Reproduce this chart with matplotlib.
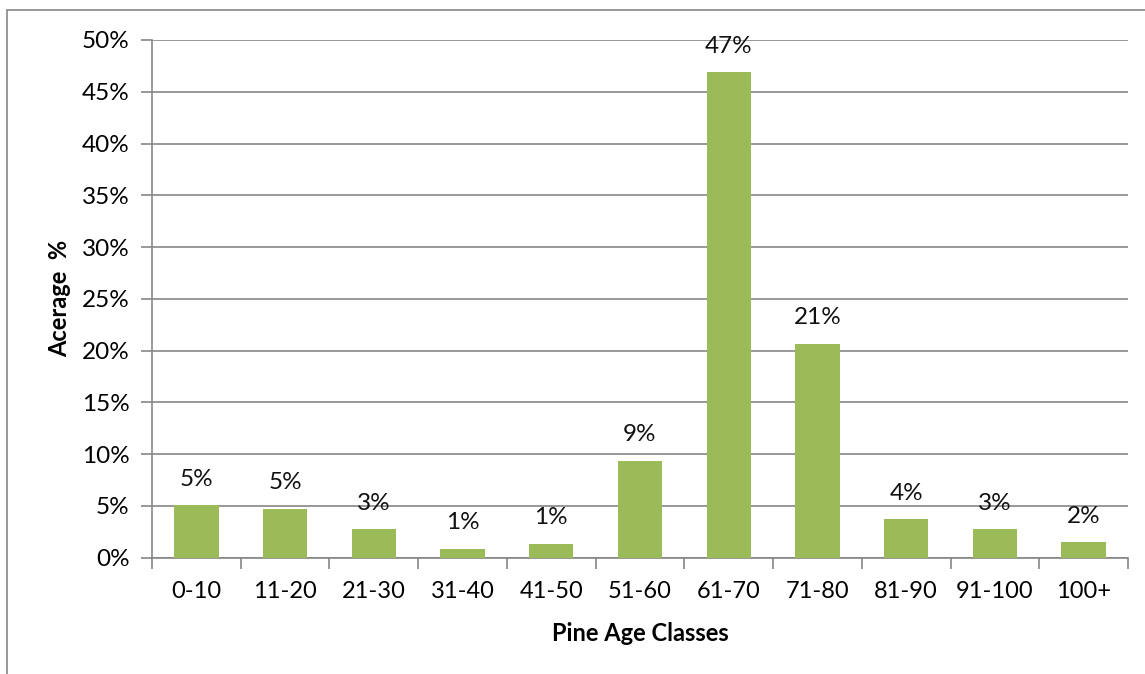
import numpy as np
import matplotlib.pyplot as plt
from matplotlib.patches import Rectangle
from matplotlib.ticker import FuncFormatter, FixedLocator

plt.rcParams['font.family'] = ['Lato', 'DejaVu Sans']

age_classes = ['0-10', '11-20', '21-30', '31-40', '41-50', '51-60',
               '61-70', '71-80', '81-90', '91-100', '100+']
share = [5.05, 4.75, 2.75, 0.85, 1.35, 9.35, 46.9, 20.65, 3.7, 2.75, 1.5]

grey = '#868686'

fig = plt.figure(figsize=(11.45, 6.74), dpi=100)
ax = fig.add_axes([152 / 1145, 1 - 557.7 / 674, 976 / 1145, (557.7 - 40) / 674])

# outer chart border (only left and top visible in reference)
fig.patches.append(Rectangle((7 / 1145, -0.1), 1.2, 1 - 10 / 674 + 0.1,
                             transform=fig.transFigure, fill=False,
                             edgecolor=grey, linewidth=1.2, zorder=0))

x = np.arange(len(age_classes))
ax.bar(x, share, width=0.5, color='#9BBB59', zorder=3)

for xi, v in zip(x, share):
    ax.annotate('{:.0f}%'.format(v), xy=(xi, v), xytext=(0, 14),
                textcoords='offset points', ha='center', va='baseline',
                fontsize=17.5, color='#111111', zorder=4)

ax.set_xlim(-0.5, len(age_classes) - 0.5)
ax.set_ylim(0, 50)
ax.set_yticks(np.arange(0, 51, 5))
ax.yaxis.set_major_formatter(FuncFormatter(lambda v, p: '{:.0f}%'.format(v)))
ax.yaxis.grid(True, color=grey, linewidth=1.2, zorder=0)
ax.set_axisbelow(True)

ax.set_xticks(x)
ax.set_xticklabels(age_classes)
ax.xaxis.set_minor_locator(FixedLocator(np.arange(-0.5, len(age_classes), 1)))
ax.tick_params(axis='x', which='major', length=0, pad=17, labelsize=17)
ax.tick_params(axis='x', which='minor', length=8, width=1.2, color=grey)
ax.tick_params(axis='y', length=8, width=1.2, color=grey, pad=8, labelsize=17.5)

for s in ['top', 'right']:
    ax.spines[s].set_visible(False)
for s in ['left', 'bottom']:
    ax.spines[s].set_color(grey)
    ax.spines[s].set_linewidth(1.2)

ax.set_xlabel('Pine Age Classes', fontsize=17, fontweight='bold', labelpad=14)
ax.set_ylabel('Acerage  %', fontsize=17, fontweight='bold', labelpad=8)

fig.savefig('out.png', dpi=100)
